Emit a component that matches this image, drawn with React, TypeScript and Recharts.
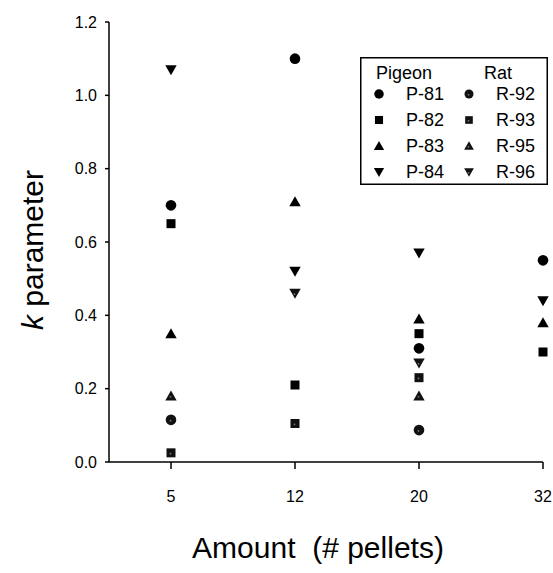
import { ScatterChart, Scatter, XAxis, YAxis, Legend } from 'recharts';

// categories on the x axis (pellets per amount)
const amounts = ['5', '12', '20', '32'];
const yTicks = [0, 0.2, 0.4, 0.6, 0.8, 1.0, 1.2];

// pigeons
const p81 = [0.70, 1.10, 0.31, 0.55];
const p82 = [0.65, 0.21, 0.35, 0.30];
const p83 = [0.35, 0.71, 0.39, 0.38];
const p84 = [1.07, 0.52, 0.57, 0.44];

// rats
const r92 = [0.115, null, 0.087, null];
const r93 = [0.025, 0.105, 0.23, null];
const r95 = [0.18, null, 0.18, null];
const r96 = [null, 0.46, 0.27, null];

const FONT = '"Liberation Sans", Arial, sans-serif';

const toPoints = (vals: (number | null)[]) =>
  vals
    .map((v, i) => (v == null ? null : { x: i + 1, y: v }))
    .filter((p) => p !== null) as { x: number; y: number }[];

type Kind = 'circle' | 'square' | 'up' | 'down';

const drawSymbol = (kind: Kind, cx: number, cy: number, rat: boolean, s = 1) => {
  const fill = rat ? '#111' : '#000';
  let el;
  if (kind === 'circle') el = <circle cx={cx} cy={cy} r={5.3 * s} fill={fill} />;
  else if (kind === 'square') el = <rect x={cx - 4.5 * s} y={cy - 4.5 * s} width={9 * s} height={9 * s} fill={fill} />;
  else if (kind === 'up')
    el = <polygon points={`${cx},${cy - 5.5 * s} ${cx + 5.7 * s},${cy + 4.5 * s} ${cx - 5.7 * s},${cy + 4.5 * s}`} fill={fill} />;
  else
    el = <polygon points={`${cx - 5.7 * s},${cy - 4.5 * s} ${cx + 5.7 * s},${cy - 4.5 * s} ${cx},${cy + 5.5 * s}`} fill={fill} />;
  return (
    <g>
      {el}
      {rat && <circle cx={cx - 0.5} cy={cy + 0.8} r={0.9} fill="#777" />}
    </g>
  );
};

const marker = (kind: Kind, rat: boolean) => (props: any) => {
  const { cx, cy } = props;
  if (cx == null || cy == null) return <g />;
  return drawSymbol(kind, cx, cy, rat);
};

const pigeonRows: [string, Kind][] = [['P-81', 'circle'], ['P-82', 'square'], ['P-83', 'up'], ['P-84', 'down']];
const ratRows: [string, Kind][] = [['R-92', 'circle'], ['R-93', 'square'], ['R-95', 'up'], ['R-96', 'down']];

const LegendBox = () => (
  <svg width={188} height={128} style={{ display: 'block' }}>
    <rect x={0.75} y={0.75} width={186.5} height={126.5} fill="#fff" stroke="#000" strokeWidth={1.5} />
    <text x={16} y={22} fontSize={18} fontFamily={FONT}>Pigeon</text>
    <text x={124} y={22} fontSize={18} fontFamily={FONT}>Rat</text>
    {pigeonRows.map(([name, kind], i) => (
      <g key={name}>
        {drawSymbol(kind, 19, 37 + i * 26, false, 0.9)}
        <text x={46} y={43 + i * 26} fontSize={18} fontFamily={FONT}>{name}</text>
      </g>
    ))}
    {ratRows.map(([name, kind], i) => (
      <g key={name}>
        {drawSymbol(kind, 109, 37 + i * 26, true, 0.85)}
        <text x={136} y={43 + i * 26} fontSize={18} fontFamily={FONT}>{name}</text>
      </g>
    ))}
  </svg>
);

const YTitle = () => (
  <text
    x={32}
    y={250}
    transform="rotate(-90, 32, 250)"
    textAnchor="middle"
    dominantBaseline="central"
    fontSize={30}
    fontFamily={FONT}
    fill="#000"
  >
    <tspan fontStyle="italic">k</tspan> parameter
  </text>
);

const XTitle = () => (
  <text x={318} y={558} textAnchor="middle" fontSize={30} fontFamily={FONT} fill="#000" style={{ whiteSpace: 'pre' }}>
    Amount  (# pellets)
  </text>
);

export default function App() {
  const tickStyle = { fontSize: 16, fontFamily: FONT, fill: '#000' };
  return (
    <div style={{ position: 'absolute', left: 0, top: 0, width: 553, height: 573, background: '#fff' }}>
      <ScatterChart width={553} height={573} margin={{ top: 22, right: 10, bottom: 0, left: 0 }} style={{ overflow: 'visible' }}>
        <XAxis
          type="number"
          dataKey="x"
          domain={[0.5, 4]}
          ticks={[1, 2, 3, 4]}
          tickFormatter={(v: number) => amounts[v - 1]}
          height={111}
          stroke="#000"
          strokeWidth={1.5}
          tickSize={7}
          tickMargin={22}
          tick={tickStyle}
          label={<XTitle />}
        />
        <YAxis
          type="number"
          dataKey="y"
          domain={[0, 1.2]}
          ticks={yTicks}
          tickFormatter={(v: number) => v.toFixed(1)}
          width={109}
          stroke="#000"
          strokeWidth={1.5}
          tickSize={4}
          tickMargin={8}
          tick={tickStyle}
          label={<YTitle />}
        />
        <Legend
          layout="vertical"
          align="center"
          verticalAlign="middle"
          content={() => <LegendBox />}
          wrapperStyle={{ position: 'absolute', left: 360, top: 57, width: 188, height: 128 }}
        />
        <Scatter name="P-81" data={toPoints(p81)} shape={marker('circle', false)} isAnimationActive={false} />
        <Scatter name="P-82" data={toPoints(p82)} shape={marker('square', false)} isAnimationActive={false} />
        <Scatter name="P-83" data={toPoints(p83)} shape={marker('up', false)} isAnimationActive={false} />
        <Scatter name="P-84" data={toPoints(p84)} shape={marker('down', false)} isAnimationActive={false} />
        <Scatter name="R-92" data={toPoints(r92)} shape={marker('circle', true)} isAnimationActive={false} />
        <Scatter name="R-93" data={toPoints(r93)} shape={marker('square', true)} isAnimationActive={false} />
        <Scatter name="R-95" data={toPoints(r95)} shape={marker('up', true)} isAnimationActive={false} />
        <Scatter name="R-96" data={toPoints(r96)} shape={marker('down', true)} isAnimationActive={false} />
      </ScatterChart>
    </div>
  );
}
